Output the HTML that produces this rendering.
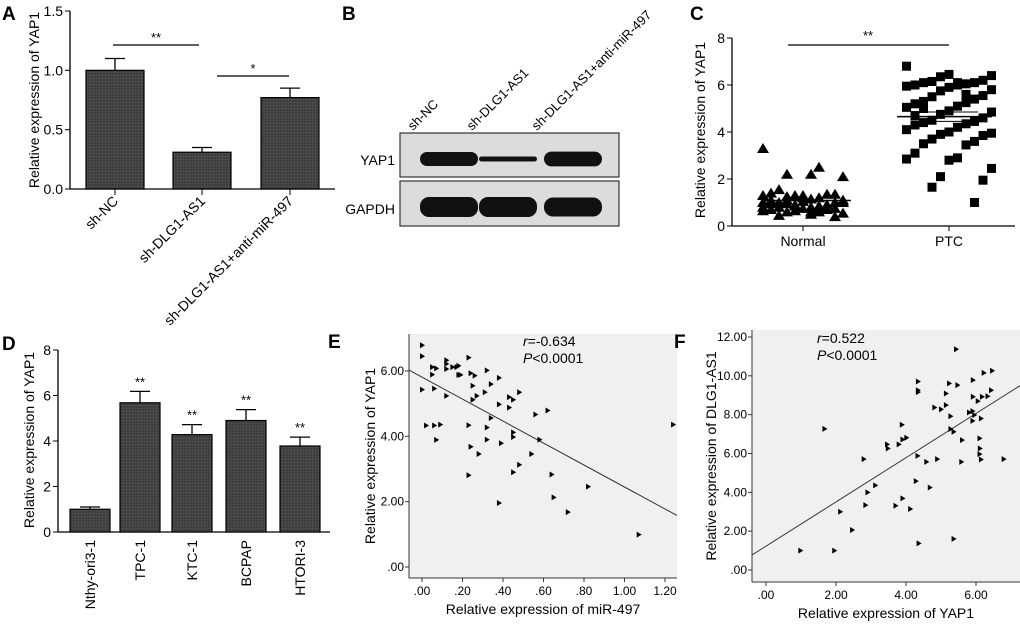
<!DOCTYPE html>
<html><head><meta charset="utf-8"><style>
body{margin:0;background:#fff}
svg{display:block;font-family:"Liberation Sans",Arial,sans-serif}
</style></head><body>
<svg id="fig" width="1020" height="628" viewBox="0 0 1020 628">
<g id="gA"></g>
<g id="gB"></g>
<g id="gC"></g>
<g id="gD"></g>
<g id="gE"></g>
<g id="gF"></g>
</svg>
<script>
// Panel A
const aCats=["sh-NC","sh-DLG1-AS1","sh-DLG1-AS1+anti-miR-497"];
const aVals=[1.0,0.31,0.77];
const aErr=[0.10,0.04,0.08];
const aTicks=["0.0","0.5","1.0","1.5"];
// Panel B
const bLanes=["sh-NC","sh-DLG1-AS1","sh-DLG1-AS1+anti-miR-497"];
const bYap=[1.0,0.35,1.05];
const bGapdh=[1.0,1.0,0.95];
// Panel C
const cNormal=[3.3,2.5,2.2,2.1,2.2,1.55,1.35,1.3,1.4,1.35,1.3,1.3,1.2,1.1,1.1,1.15,1.0,1.0,1.05,0.95,0.9,0.9,1.0,0.85,0.95,1.0,0.8,0.8,0.75,0.75,0.7,0.7,0.65,0.65,0.6,0.6,0.55,0.5,0.45,0.4,1.2,1.1,0.9,0.85,0.8,0.7,1.25,1.0,0.6,0.95];
const cPTC=[6.8,6.45,6.4,6.35,6.2,6.15,6.1,6.1,6.05,6.0,6.0,5.95,5.9,5.8,5.75,5.55,5.5,5.4,5.3,5.25,5.2,5.1,5.05,4.9,4.85,4.75,4.6,4.5,4.45,4.4,4.35,4.3,4.2,4.1,4.0,3.95,3.9,3.85,3.7,3.6,3.5,3.45,3.1,2.9,2.85,2.8,2.45,2.1,1.95,1.65,1.0,5.0,5.6,4.7,6.1];
const cTicks=[0,2,4,6,8];
// Panel D
const dCats=["Nthy-ori3-1","TPC-1","KTC-1","BCPAP","HTORI-3"];
const dVals=[1.0,5.68,4.28,4.9,3.78];
const dErr=[0.1,0.5,0.44,0.48,0.39];
const dTicks=[0,2,4,6,8];
// Panel E
const eX=[0,0,.05,.07,.05,.12,.12,.12,.15,.17,.18,.18,.19,.23,.24,.26,.32,.38,0,.06,.12,.25,.27,.31,.34,.25,.38,.43,.45,.48,.43,.56,.62,.34,.02,.06,.09,.23,.32,.07,.32,.45,.45,.58,1.24,.24,.39,.28,.54,.48,.45,.23,.64,.82,.65,.38,.72,1.07];
const eY=[6.79,6.45,6.12,6.08,5.89,6.22,6.33,6.06,6.12,6.12,6.16,5.88,5.88,6.41,5.93,5.86,6.02,5.79,5.43,5.46,5.24,5.55,5.24,5.35,5.6,5.12,4.98,5.2,5.12,5.35,4.88,4.67,4.79,4.56,4.33,4.33,4.36,4.34,4.27,3.89,3.9,4.12,3.98,3.9,4.36,3.68,3.79,3.46,3.46,3.13,2.9,2.81,2.83,2.46,2.13,1.96,1.68,0.99];
const eXTicks=[".00",".20",".40",".60",".80","1.00","1.20"];
const eYTicks=[".00","2.00","4.00","6.00"];
// Panel F
const fX=[0.98,1.95,1.67,2.79,2.46,2.12,2.84,2.9,3.12,3.46,3.48,3.79,3.88,3.9,4.01,3.7,3.9,4.12,4.34,4.34,4.34,4.33,4.36,4.28,4.58,4.68,4.89,4.81,5.0,5.14,5.14,5.23,5.27,5.27,5.36,5.36,5.43,5.47,5.6,5.58,5.8,5.9,5.95,5.91,5.91,5.9,6.05,6.17,6.14,6.1,6.11,6.1,6.14,6.22,6.33,6.43,6.46,6.79];
const fY=[1.0,1.0,7.27,5.71,2.06,3.0,3.34,4.0,4.36,6.47,6.26,6.47,7.48,6.72,6.81,3.31,3.69,3.14,9.71,9.26,9.16,5.88,1.37,4.58,5.57,4.25,5.71,8.37,8.27,8.49,9.09,9.61,7.92,7.26,7.12,1.6,11.37,9.52,6.69,5.57,8.11,8.18,7.98,9.78,8.92,7.68,8.7,8.92,7.8,6.78,6.26,5.97,5.69,10.15,8.95,9.26,10.26,5.71];
const fXTicks=[".00","2.00","4.00","6.00"];
const fYTicks=[".00","2.00","4.00","6.00","8.00","10.00","12.00"];

const NS="http://www.w3.org/2000/svg";
function mk(parent,tag,attrs,txt){const e=document.createElementNS(NS,tag);for(const k in attrs)e.setAttribute(k,attrs[k]);if(txt!==undefined)e.textContent=txt;parent.appendChild(e);return e;}
function lin(d0,d1,r0,r1){return v=>r0+(v-d0)*(r1-r0)/(d1-d0);}

const svg=document.getElementById('fig');
const defs=mk(svg,'defs',{});
const pat=mk(defs,'pattern',{id:'hatch',width:3,height:3,patternUnits:'userSpaceOnUse'});
mk(pat,'rect',{width:3,height:3,fill:'#3c3c3c'});
mk(pat,'path',{d:'M0 0H3M0 0V3',stroke:'#5a5a5a','stroke-width':0.8});

function panelLabel(g,x,y,t){const e=mk(g,'text',{x:x,y:y,'font-size':19,'font-weight':'bold'},t);

}

// ---------- A ----------
(function(){
const g=document.getElementById('gA');
panelLabel(g,2,20,'A');
const y=lin(0,1.5,189,11);const cx=[115,202,290];const bw=58;
mk(g,'line',{x1:70,y1:11,x2:70,y2:189,stroke:'#000','stroke-width':1.3});
mk(g,'line',{x1:70,y1:189,x2:335,y2:189,stroke:'#000','stroke-width':1.3});
aTicks.forEach(t=>{const yy=y(parseFloat(t));
mk(g,'line',{x1:65,y1:yy,x2:70,y2:yy,stroke:'#000'});
const e=mk(g,'text',{x:63,y:yy+5,'text-anchor':'end','font-size':14},t);

});
const yl=mk(g,'text',{transform:'translate(39,100) rotate(-90)','text-anchor':'middle','font-size':14},'Relative expression of YAP1');


aVals.forEach((v,i)=>{
const r=mk(g,'rect',{x:cx[i]-bw/2,y:y(v),width:bw,height:189-y(v),fill:'url(#hatch)',stroke:'#000','stroke-width':1.2});


const ye=y(v+aErr[i]);
mk(g,'line',{x1:cx[i],y1:y(v),x2:cx[i],y2:ye,stroke:'#000','stroke-width':1.3});
mk(g,'line',{x1:cx[i]-10,y1:ye,x2:cx[i]+10,y2:ye,stroke:'#000','stroke-width':1.3});
mk(g,'line',{x1:cx[i],y1:189,x2:cx[i],y2:195,stroke:'#000'});
const t=mk(g,'text',{transform:`translate(${cx[i]+4},${202}) rotate(-45)`,'text-anchor':'end','font-size':14},aCats[i]);


});
mk(g,'line',{x1:113,y1:45,x2:199,y2:45,stroke:'#000','stroke-width':1.2});
mk(g,'text',{x:156,y:42,'text-anchor':'middle','font-size':13},'**');
mk(g,'line',{x1:217,y1:76,x2:289,y2:76,stroke:'#000','stroke-width':1.2});
mk(g,'text',{x:253,y:73,'text-anchor':'middle','font-size':13},'*');
})();

// ---------- B ----------
(function(){
const g=document.getElementById('gB');
panelLabel(g,342,20,'B');
const lx=[449,508,573];
mk(g,'rect',{x:400,y:133,width:219,height:44,fill:'#dcdcdc',stroke:'#333','stroke-width':1.2});
mk(g,'rect',{x:400,y:181,width:219,height:45,fill:'#dcdcdc',stroke:'#333','stroke-width':1.2});
const l1=mk(g,'text',{x:395,y:165,'text-anchor':'end','font-size':14},'YAP1');


const l2=mk(g,'text',{x:395,y:214,'text-anchor':'end','font-size':14},'GAPDH');


bYap.forEach((v,i)=>{const e=mk(g,'rect',{x:lx[i]-29,y:159-7*v,width:58,height:14*v,rx:7*v,fill:'#111'});

});
bGapdh.forEach((v,i)=>{const e=mk(g,'rect',{x:lx[i]-29,y:207-10*v,width:58,height:20*v,rx:9,fill:'#111'});

});
bLanes.forEach((t,i)=>{const e=mk(g,'text',{transform:`translate(${lx[i]-36},${131}) rotate(-45)`,'font-size':13},t);

});
})();

// ---------- C ----------
(function(){
const g=document.getElementById('gC');
panelLabel(g,690,20,'C');
const y=lin(0,8,226,38);
mk(g,'line',{x1:732,y1:38,x2:732,y2:226,stroke:'#000','stroke-width':1.3});
mk(g,'line',{x1:732,y1:226,x2:1015,y2:226,stroke:'#000','stroke-width':1.3});
cTicks.forEach(t=>{const yy=y(t);mk(g,'line',{x1:727,y1:yy,x2:732,y2:yy,stroke:'#000'});
const e=mk(g,'text',{x:725,y:yy+5,'text-anchor':'end','font-size':14},String(t));

});
const yl=mk(g,'text',{transform:'translate(705,130) rotate(-90)','text-anchor':'middle','font-size':14},'Relative expression of YAP1');


[[803,'Normal'],[949,'PTC']].forEach(([x,t])=>{mk(g,'line',{x1:x,y1:226,x2:x,y2:231,stroke:'#000'});
const e=mk(g,'text',{x:x,y:246,'text-anchor':'middle','font-size':14},t);

});
cNormal.forEach((v,i)=>{const x=803+((i*7)%11-5)*8,yy=y(v);
const p=mk(g,'path',{d:`M${x} ${yy-5.5}L${x+6} ${yy+4.5}L${x-6} ${yy+4.5}Z`,fill:'#000'});

});
cPTC.forEach((v,i)=>{const x=949+((i*5)%11-5)*8.5,yy=y(v);
const p=mk(g,'rect',{x:x-4.5,y:yy-4.5,width:9,height:9,fill:'#000'});

});
const mean=a=>a.reduce((s,v)=>s+v,0)/a.length;
const mn=mean(cNormal),mp=mean(cPTC);
mk(g,'line',{x1:764,y1:y(mn),x2:851,y2:y(mn),stroke:'#000','stroke-width':1.5});
mk(g,'line',{x1:897,y1:y(mp),x2:992,y2:y(mp),stroke:'#000','stroke-width':1.5});
mk(g,'line',{x1:920,y1:y(mp+0.2),x2:978,y2:y(mp+0.2),stroke:'#000','stroke-width':1});
mk(g,'line',{x1:920,y1:y(mp-0.2),x2:978,y2:y(mp-0.2),stroke:'#000','stroke-width':1});
mk(g,'line',{x1:788,y1:45,x2:949,y2:45,stroke:'#000','stroke-width':1.2});
mk(g,'text',{x:868,y:40,'text-anchor':'middle','font-size':13},'**');
})();

// ---------- D ----------
(function(){
const g=document.getElementById('gD');
panelLabel(g,2,350,'D');
const y=lin(0,8,532,350);const cx=[90,140,192,246,300];const bw=40;
mk(g,'line',{x1:58,y1:350,x2:58,y2:532,stroke:'#000','stroke-width':1.3});
mk(g,'line',{x1:58,y1:532,x2:330,y2:532,stroke:'#000','stroke-width':1.3});
dTicks.forEach(t=>{const yy=y(t);mk(g,'line',{x1:53,y1:yy,x2:58,y2:yy,stroke:'#000'});
const e=mk(g,'text',{x:51,y:yy+5,'text-anchor':'end','font-size':14},String(t));

});
const yl=mk(g,'text',{transform:'translate(34,440) rotate(-90)','text-anchor':'middle','font-size':14},'Relative expression of YAP1');


dVals.forEach((v,i)=>{
const r=mk(g,'rect',{x:cx[i]-bw/2,y:y(v),width:bw,height:532-y(v),fill:'url(#hatch)',stroke:'#000','stroke-width':1.2});


const ye=y(v+dErr[i]);
mk(g,'line',{x1:cx[i],y1:y(v),x2:cx[i],y2:ye,stroke:'#000','stroke-width':1.3});
mk(g,'line',{x1:cx[i]-10,y1:ye,x2:cx[i]+10,y2:ye,stroke:'#000','stroke-width':1.3});
if(i>0)mk(g,'text',{x:cx[i],y:ye-5,'text-anchor':'middle','font-size':13},'**');
const t=mk(g,'text',{transform:`translate(${cx[i]+5},${540}) rotate(-90)`,'text-anchor':'end','font-size':14},dCats[i]);


});
})();

// ---------- scatter helper ----------
function scatter(g,pre,X,Y,box,xd,yd,xt,yt,xlab,ylab,stat,statPos,ylabX){
const x=lin(xd[0],xd[1],box.x0,box.x1),y=lin(yd[0],yd[1],box.y0,box.y1);
mk(g,'rect',{x:box.l,y:box.t,width:box.r-box.l,height:box.b-box.t,fill:'#f0f0f0'});
mk(g,'line',{x1:box.l,y1:box.t,x2:box.l,y2:box.b,stroke:'#333','stroke-width':1});
mk(g,'line',{x1:box.l,y1:box.b,x2:box.r,y2:box.b,stroke:'#333','stroke-width':1});
xt.forEach(t=>{const xx=x(parseFloat(t));mk(g,'line',{x1:xx,y1:box.b,x2:xx,y2:box.b+4,stroke:'#333'});
const e=mk(g,'text',{x:xx,y:box.b+17,'text-anchor':'middle','font-size':12},t);

});
yt.forEach(t=>{const yy=y(parseFloat(t));mk(g,'line',{x1:box.l-4,y1:yy,x2:box.l,y2:yy,stroke:'#333'});
const e=mk(g,'text',{x:box.l-5,y:yy+4,'text-anchor':'end','font-size':12},t);

});
const xl=mk(g,'text',{x:(box.l+box.r)/2,y:box.b+36,'text-anchor':'middle','font-size':14},xlab);


const yl=mk(g,'text',{transform:`translate(${ylabX},${(box.t+box.b)/2}) rotate(-90)`,'text-anchor':'middle','font-size':14},ylab);


const n=X.length,mx=X.reduce((a,b)=>a+b)/n,my=Y.reduce((a,b)=>a+b)/n;
let sxy=0,sxx=0;for(let i=0;i<n;i++){sxy+=(X[i]-mx)*(Y[i]-my);sxx+=(X[i]-mx)**2;}
const b=sxy/sxx,a=my-b*mx;
const cp=mk(defs,'clipPath',{id:pre+'clip'});mk(cp,'rect',{x:box.l,y:box.t,width:box.r-box.l,height:box.b-box.t});
const rl=mk(g,'line',{x1:box.l,y1:y(a+b*xd[2]),x2:box.r,y2:y(a+b*xd[3]),stroke:'#333','stroke-width':1,'clip-path':`url(#${pre}clip)`});


X.forEach((v,i)=>{const px=x(v),py=y(Y[i]);
const p=mk(g,'path',{d:`M${px-2} ${py-3}L${px+3} ${py}L${px-2} ${py+3}Z`,fill:'#000'});

});
const s=mk(g,'text',{x:statPos[0],y:statPos[1],'font-size':14});
mk(s,'tspan',{'font-style':'italic'},'r');mk(s,'tspan',{},stat);
const s2=mk(g,'text',{x:statPos[0],y:statPos[1]+17,'font-size':14});
mk(s2,'tspan',{'font-style':'italic'},'P');mk(s2,'tspan',{},'<0.0001');
}
(function(){const g=document.getElementById('gE');panelLabel(g,328,348,'E');
const box={l:409,r:677,t:334,b:578,x0:422,x1:624.5,y0:567,y1:371};
scatter(g,'e',eX,eY,box,[0,1,(409-422)/202.5,(677-422)/202.5],[0,6],eXTicks,eYTicks,'Relative expression of miR-497','Relative expression of YAP1','=-0.634',[523,346],375);})();
(function(){const g=document.getElementById('gF');panelLabel(g,674,348,'F');
const box={l:752,r:1020,t:330,b:582,x0:766,x1:836,y0:570,y1:337};
scatter(g,'f',fX,fY,box,[0,2,(752-766)/35,(1020-766)/35],[0,12],fXTicks,fYTicks,'Relative expression of YAP1','Relative expression of DLG1-AS1','=0.522',[817,343],716);})();
</script>
</body></html>
